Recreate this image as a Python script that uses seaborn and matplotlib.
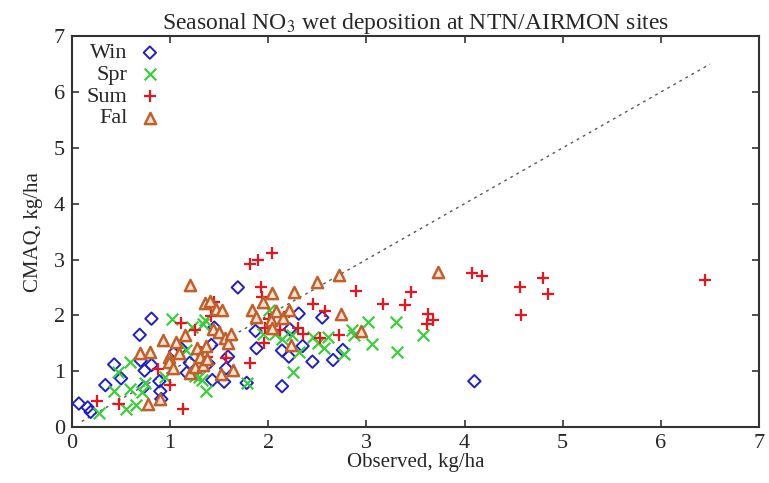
import matplotlib
matplotlib.use("Agg")
import matplotlib.pyplot as plt
import seaborn as sns

# observed vs CMAQ, kg/ha, per season
win_obs = [0.07, 0.16, 0.19, 0.34, 0.43, 0.50, 0.69, 0.70, 0.74, 0.73, 0.81, 0.81, 0.89, 0.90,
           0.91, 1.05, 1.11, 1.17, 1.20, 1.39, 1.42, 1.45, 1.43, 1.55, 1.57, 1.59, 1.69, 1.78,
           1.87, 1.88, 2.14, 2.14, 2.21, 2.22, 2.31, 2.35, 2.45, 2.55, 2.66, 2.76, 4.10]
win_mod = [0.42, 0.35, 0.27, 0.75, 1.12, 0.87, 1.65, 1.19, 1.01, 0.71, 1.94, 1.11, 0.82, 0.64,
           0.50, 1.35, 1.41, 0.97, 1.15, 1.14, 1.47, 1.78, 0.84, 0.81, 1.05, 1.26, 2.50, 0.79,
           1.72, 1.41, 0.73, 1.37, 1.26, 1.75, 2.03, 1.45, 1.17, 1.96, 1.20, 1.38, 0.82]

spr_obs = [0.28, 0.43, 0.47, 0.55, 0.59, 0.59, 0.65, 0.71, 0.74, 0.95, 1.02, 1.16, 1.22, 1.25,
           1.29, 1.32, 1.33, 1.36, 1.37, 1.78, 1.95, 2.01, 2.07, 2.14, 2.24, 2.25, 2.31, 2.46,
           2.51, 2.57, 2.61, 2.77, 2.85, 2.87, 3.02, 3.06, 3.30, 3.31, 3.58]
spr_mod = [0.25, 0.65, 0.99, 0.32, 1.16, 0.68, 0.39, 0.63, 0.78, 0.90, 1.93, 1.38, 1.79, 0.91,
           0.90, 0.85, 1.85, 1.91, 0.64, 0.78, 1.66, 2.09, 1.66, 1.57, 1.65, 0.99, 1.35, 1.62,
           1.50, 1.41, 1.62, 1.31, 1.74, 1.64, 1.88, 1.48, 1.88, 1.34, 1.65]

sum_obs = [0.25, 0.48, 0.88, 1.00, 1.11, 1.13, 1.25, 1.31, 1.38, 1.42, 1.45, 1.57, 1.81, 1.90,
           2.04, 1.93, 1.94, 1.81, 1.96, 2.01, 1.97, 2.12, 2.21, 2.30, 2.35, 2.46, 2.53, 2.58,
           2.72, 2.89, 3.17, 3.39, 3.45, 3.62, 3.63, 3.68, 4.08, 4.18, 4.56, 4.58, 4.80, 4.85,
           6.45]
sum_mod = [0.47, 0.41, 1.03, 0.75, 1.87, 0.33, 1.74, 1.35, 1.26, 1.99, 2.24, 1.23, 2.92, 3.00,
           3.12, 2.51, 2.33, 1.15, 1.50, 1.94, 1.77, 1.74, 2.06, 1.77, 1.66, 2.20, 1.59, 2.08,
           1.65, 2.44, 2.20, 2.19, 2.42, 1.85, 2.02, 1.91, 2.76, 2.70, 2.51, 2.00, 2.66, 2.38,
           2.63]

fal_obs = [0.69, 0.77, 0.79, 0.90, 0.93, 0.99, 0.99, 1.03, 1.06, 1.09, 1.15, 1.20, 1.20, 1.25,
           1.27, 1.30, 1.33, 1.36, 1.37, 1.38, 1.41, 1.44, 1.47, 1.50, 1.52, 1.53, 1.56, 1.59,
           1.62, 1.64, 1.83, 1.87, 1.95, 2.03, 2.04, 2.04, 2.08, 2.15, 2.21, 2.23, 2.26, 2.50,
           2.72, 2.74, 2.94, 3.73]
fal_mod = [1.33, 0.42, 1.35, 0.50, 1.55, 1.26, 1.17, 1.05, 1.53, 1.32, 1.65, 2.54, 0.96, 1.08,
           1.42, 1.26, 1.11, 2.22, 1.45, 1.21, 2.25, 1.76, 2.12, 1.71, 0.95, 2.10, 1.60, 1.50,
           1.67, 1.02, 2.09, 1.97, 2.24, 1.91, 1.78, 2.40, 2.08, 1.95, 2.10, 1.47, 2.42, 2.60,
           2.72, 2.02, 1.72, 2.78]

one_to_one = [0.1, 6.5]
ticks = [0, 1, 2, 3, 4, 5, 6, 7]

sns.set_style("ticks", {"xtick.direction": "in", "ytick.direction": "in"})
plt.rcParams["font.family"] = ["Liberation Serif", "DejaVu Serif"]
plt.rcParams["mathtext.fontset"] = "stix"

fig = plt.figure(figsize=(7.69, 4.83), dpi=100)
ax = fig.add_axes([0.0936, 0.116, 0.8934, 0.809])

# 1:1 line
sns.lineplot(x=one_to_one, y=one_to_one, ax=ax, color="#555555", linewidth=1.0,
             linestyle=(0, (2, 3)), legend=False)

sns.scatterplot(x=win_obs, y=win_mod, ax=ax, marker="D", s=40, facecolor="none",
                edgecolor="#1f1fc8", linewidth=1.4, label="Win", zorder=3)
sns.scatterplot(x=spr_obs, y=spr_mod, ax=ax, marker="x", s=70, color="#3ccc3c",
                linewidth=1.6, label="Spr", zorder=3)
sns.scatterplot(x=sum_obs, y=sum_mod, ax=ax, marker="+", s=80, color="#e8141e",
                linewidth=1.6, label="Sum", zorder=3)
sns.scatterplot(x=fal_obs, y=fal_mod, ax=ax, marker="^", s=65, facecolor="#f6e2d4",
                edgecolor="#c0602a", linewidth=1.8, label="Fal", zorder=3)

ax.set_xlim(0, 7)
ax.set_ylim(0, 7)
ax.set_xticks(ticks)
ax.set_yticks(ticks)
ax.tick_params(which="both", direction="in", top=True, right=True, length=5,
               width=1.2, color="#333333", labelsize=16, pad=5)
for sp in ax.spines.values():
    sp.set_linewidth(1.5)
    sp.set_color("#333333")

ax.set_xlabel("Observed, kg/ha", fontsize=15, labelpad=0)
ax.set_ylabel("CMAQ, kg/ha", fontsize=15, labelpad=8)
ax.set_title("Seasonal NO$_3$ wet deposition at NTN/AIRMON sites", fontsize=17, pad=4)

leg = ax.legend(loc="upper left", bbox_to_anchor=(0.012, 1.0), markerfirst=False,
                frameon=False, fontsize=16, handletextpad=0.5, labelspacing=0.05,
                borderaxespad=0.0, borderpad=0.3, handlelength=1.0)

fig.savefig("out.png", dpi=100)
